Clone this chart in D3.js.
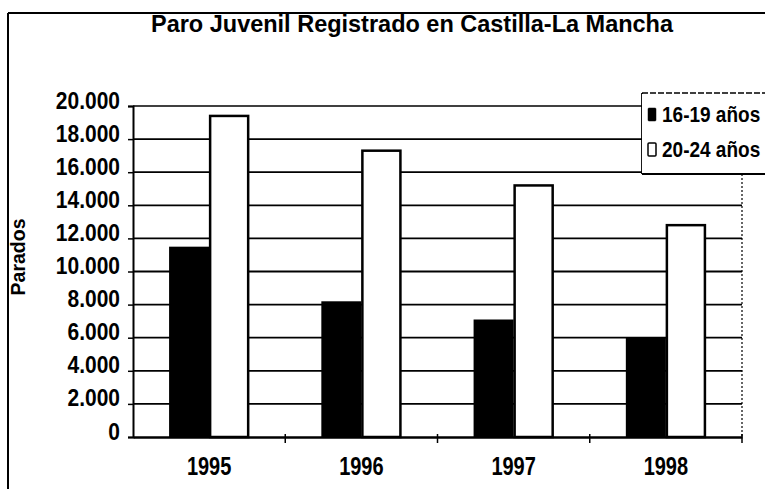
<!DOCTYPE html>
<html><head><meta charset="utf-8">
<script src="https://cdn.jsdelivr.net/npm/d3@7"></script>
<style>
html,body{margin:0;padding:0;background:#fff;overflow:hidden;}
text{font-family:"Liberation Sans",Arial,sans-serif;font-weight:bold;fill:#000;}
</style></head>
<body>
<svg id="c" width="765" height="489"></svg>
<script>
const title = "Paro Juvenil Registrado en Castilla-La Mancha";
const yTitle = "Parados";
const years = ["1995", "1996", "1997", "1998"];
const seriesNames = ["16-19 años", "20-24 años"];
const youth1619 = [11500, 8200, 7100, 6000];
const youth2024 = [19400, 17300, 15200, 12800];
const yTicks = [0, 2000, 4000, 6000, 8000, 10000, 12000, 14000, 16000, 18000, 20000];
const yTickLabels = ["0", "2.000", "4.000", "6.000", "8.000", "10.000", "12.000", "14.000", "16.000", "18.000", "20.000"];

const svg = d3.select("#c");
const L = 133, R = 742, T = 106, B = 437;

const x = d3.scaleBand().domain(years).range([L, R]).padding(0);
const bw = x.bandwidth();
const xs = d3.scaleBand().domain(seriesNames).range([bw * 0.237, bw * 0.763]).padding(0);
const y = d3.scaleLinear().domain([0, 20000]).range([B, T]);

// outer frame
svg.append("line").attr("x1", 8).attr("x2", 765).attr("y1", 13).attr("y2", 13).attr("stroke", "#000").attr("stroke-width", 2);
svg.append("line").attr("x1", 8).attr("x2", 8).attr("y1", 13).attr("y2", 489).attr("stroke", "#000").attr("stroke-width", 2);

// title
svg.append("text").attr("transform", "translate(412,32) scale(1,1.05)").attr("text-anchor", "middle")
  .style("font-size", "23.5px").text(title);

// gridlines
svg.append("g").selectAll("line").data(yTicks.filter(d => d > 0)).join("line")
  .attr("x1", L).attr("x2", d => d === 20000 ? 642 : R)
  .attr("y1", d => y(d)).attr("y2", d => y(d))
  .attr("stroke", "#000").attr("stroke-width", d => d === 20000 ? 1.3 : 1.8);

// plot right border (dotted)
svg.append("line").attr("x1", R).attr("x2", R).attr("y1", 174).attr("y2", B)
  .attr("stroke", "#000").attr("stroke-width", 1.2).attr("stroke-dasharray", "2,2");

// bars
const data = years.map((yr, i) => ({yr, vals: [youth1619[i], youth2024[i]]}));
const g = svg.append("g");
data.forEach(d => {
  d.vals.forEach((v, j) => {
    const s = seriesNames[j];
    g.append("rect")
      .attr("x", x(d.yr) + xs(s) + (j === 1 ? 1 : 0))
      .attr("y", y(v))
      .attr("width", xs.bandwidth() - (j === 1 ? 2 : 0))
      .attr("height", B - y(v))
      .attr("fill", j === 0 ? "#000" : "#fff")
      .attr("stroke", "#000")
      .attr("stroke-width", j === 0 ? 0 : 2.5);
  });
});

// y axis
const yAxis = d3.axisLeft(y).tickValues(yTicks).tickSize(5).tickFormat((d, i) => yTickLabels[i]);
const ya = svg.append("g").attr("transform", `translate(${L},0)`).call(yAxis);
ya.select(".domain").attr("stroke", "#000").attr("stroke-width", 2);
ya.selectAll(".tick line").attr("stroke", "#000").attr("stroke-width", 1.5);
ya.selectAll(".tick text").attr("x", 0).attr("y", 0).attr("dy", 0)
  .attr("transform", "translate(-13,2) scale(1,1.1)")
  .style("font-size", "21px").attr("font-family", null);

// x axis
const xAxis = d3.axisBottom(x).tickSize(0).tickSizeOuter(0);
const xa = svg.append("g").attr("transform", `translate(0,${B})`).call(xAxis);
xa.select(".domain").attr("stroke", "#000").attr("stroke-width", 2.5);
xa.selectAll(".tick text").attr("y", 0).attr("dy", 0)
  .attr("transform", "translate(0,38) scale(1,1.25)")
  .style("font-size", "20px").attr("font-family", null);
// category boundary ticks
svg.append("g").selectAll("line").data(years.slice(1).concat(["end"])).join("line")
  .attr("x1", d => d === "end" ? R : x(d)).attr("x2", d => d === "end" ? R : x(d))
  .attr("y1", B - 3).attr("y2", B + 6).attr("stroke", "#000").attr("stroke-width", 1.5);

// y title
svg.append("text").attr("transform", "translate(25,257) rotate(-90)").attr("text-anchor", "middle")
  .style("font-size", "19.5px").text(yTitle);

// legend
const lg = svg.append("g");
lg.append("line").attr("x1", 642).attr("x2", 765).attr("y1", 93).attr("y2", 93)
  .attr("stroke", "#000").attr("stroke-width", 1.5).attr("stroke-dasharray", "6,2");
lg.append("line").attr("x1", 642).attr("x2", 642).attr("y1", 93).attr("y2", 174)
  .attr("stroke", "#000").attr("stroke-width", 1.8);
lg.append("line").attr("x1", 642).attr("x2", 765).attr("y1", 174).attr("y2", 174)
  .attr("stroke", "#000").attr("stroke-width", 1.8);
lg.append("rect").attr("x", 642).attr("y", 94).attr("width", 123).attr("height", 79).attr("fill", "#fff");
seriesNames.forEach((s, i) => {
  const yy = 122 + i * 35;
  lg.append("rect").attr("x", 648).attr("y", yy - 14).attr("width", 8).attr("height", 13)
    .attr("rx", 1)
    .attr("fill", i === 0 ? "#000" : "#fff").attr("stroke", "#000").attr("stroke-width", i === 0 ? 0.5 : 1.5);
  lg.append("text").attr("transform", `translate(662,${yy}) scale(1,1.15)`)
    .style("font-size", "19px").text(s);
});
</script>
</body></html>
